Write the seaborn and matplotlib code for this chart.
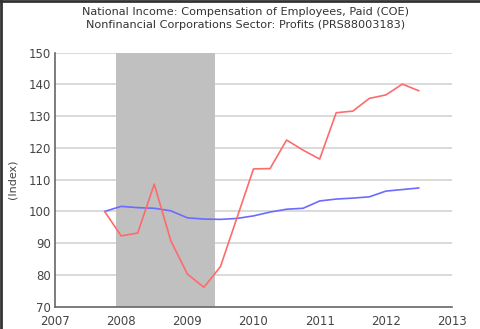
import matplotlib
matplotlib.use("Agg")
import matplotlib.pyplot as plt
from matplotlib.lines import Line2D
import seaborn as sns
import pandas as pd

# Quarterly observations (decimal year)
quarters = [2007.75, 2008.0, 2008.25, 2008.5, 2008.75, 2009.0, 2009.25, 2009.5, 2009.75,
            2010.0, 2010.25, 2010.5, 2010.75, 2011.0, 2011.25, 2011.5, 2011.75,
            2012.0, 2012.25, 2012.5]
coe = [100.0, 101.6, 101.2, 101.0, 100.2, 98.0, 97.6, 97.5, 97.8,
       98.6, 99.8, 100.7, 101.0, 103.3, 103.9, 104.2, 104.6,
       106.4, 106.9, 107.4]
profits = [100.0, 92.3, 93.2, 108.6, 90.8, 80.3, 76.1, 82.6, 98.0,
           113.4, 113.5, 122.5, 119.3, 116.5, 131.1, 131.6, 135.6,
           136.7, 140.1, 138.0]
recession = (2007.917, 2009.417)
year_ticks = [2007, 2008, 2009, 2010, 2011, 2012, 2013]
y_ticks = [70, 80, 90, 100, 110, 120, 130, 140, 150]
title_lines = ["National Income: Compensation of Employees, Paid (COE)",
               "Nonfinancial Corporations Sector: Profits (PRS88003183)"]

df = pd.DataFrame({"date": quarters * 2,
                   "value": coe + profits,
                   "series": ["COE"] * len(coe) + ["Profits"] * len(profits)})

sns.set_style("white")
plt.rcParams["font.family"] = ["DejaVu Sans"]

fig = plt.figure(figsize=(4.8, 3.29), dpi=100)
ax = fig.add_axes([55 / 480, 1 - 306.7 / 329, (452 - 55) / 480, (306.7 - 52.7) / 329])

ax.axvspan(recession[0], recession[1], color="#c0c0c0", lw=0, zorder=1)
for y in y_ticks[1:]:
    ax.axhline(y, color="#d4d4d4", lw=1.2, zorder=0.5)

sns.lineplot(data=df, x="date", y="value", hue="series",
             palette={"COE": "#6b6bff", "Profits": "#ff6b6b"},
             linewidth=1.2, legend=False, ax=ax, zorder=3)

ax.set_xlim(2007, 2013)
ax.set_ylim(70, 150)
ax.set_xticks(year_ticks)
ax.set_xticklabels([str(y) for y in year_ticks])
ax.set_yticks(y_ticks)
ax.set_yticklabels([str(y) for y in y_ticks])
ax.tick_params(axis="both", labelsize=8.5, colors="#555555", labelcolor="#444444",
               direction="in", length=4, width=1)
ax.tick_params(axis="x", pad=6)
ax.tick_params(axis="y", pad=3)
ax.set_xlabel("")
ax.set_ylabel("(Index)", fontsize=8, color="#444444", labelpad=8)
for s in ["top", "right"]:
    ax.spines[s].set_visible(False)
for s in ["left", "bottom"]:
    ax.spines[s].set_color("#666666")
    ax.spines[s].set_linewidth(1.2)

fig.text(246 / 480, 1 - 12 / 329, title_lines[0], ha="center", va="center", fontsize=8.1, color="#333333")
fig.text(246 / 480, 1 - 25 / 329, title_lines[1], ha="center", va="center", fontsize=8.1, color="#333333")

fig.add_artist(Line2D([0.002, 0.002], [0, 1], transform=fig.transFigure, color="#333333", lw=2))
fig.add_artist(Line2D([0, 1], [0.997, 0.997], transform=fig.transFigure, color="#333333", lw=2))

fig.savefig("out.png", dpi=100, facecolor="white")
